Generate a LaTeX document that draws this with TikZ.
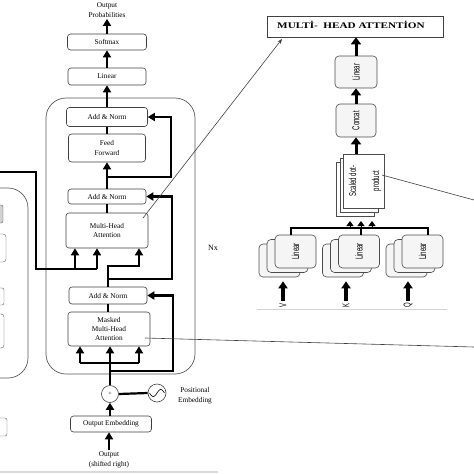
\documentclass[tikz,border=0pt]{standalone}
\usepackage{fontspec}
\setmainfont{Liberation Serif}
\setsansfont{Liberation Sans}
\usetikzlibrary{arrows.meta}
\begin{document}
\begin{tikzpicture}[x=1pt,y=-1pt,
  box/.style={draw=black!75, line width=0.6pt, rounded corners=3pt, align=center, inner sep=1pt, font=\fontsize{7.3}{9.3}\selectfont, fill=white},
  lbl/.style={align=center, inner sep=1pt, font=\fontsize{7.3}{10.5}\selectfont},
  thk/.style={line width=2.2pt},
  arr/.style={line width=2.2pt, -{Triangle[length=7pt,width=8pt]}},
  arrb/.style={line width=3pt, -{Triangle[length=7pt,width=10pt]}},
  bigarr/.style={line width=3.5pt, -{Triangle[length=7pt,width=9pt]}},
  sarr/.style={line width=1pt, -{Triangle[length=5pt,width=7pt]}},
  thinl/.style={draw=black!75, line width=0.6pt},
  frame/.style={draw=black!65, line width=0.7pt, rounded corners=20pt},
  sheet/.style={draw=black!70, line width=0.6pt, rounded corners=4pt, fill=gray!8, minimum width=41pt, minimum height=33pt, inner sep=0pt},
  psheet/.style={draw=black!70, line width=0.6pt, fill=white, minimum width=38pt, minimum height=54pt, inner sep=0pt},
  rbox/.style={draw=black!70, line width=0.6pt, rounded corners=4pt, fill=gray!8, inner sep=0pt},
  circ/.style={circle, draw=black!75, line width=0.6pt, inner sep=0pt, fill=white}
]
\useasboundingbox (0,0) rectangle (474,474);

% ---------- encoder (cut off at the left) ----------
\begin{scope}
\clip (0,0) rectangle (474,474);
\draw[frame] (-60,188) rectangle (28,378);
\draw[draw=black!65, fill=gray!35, rounded corners=2pt] (-40,205) rectangle (3,223);
\draw[draw=black!65, rounded corners=3pt] (-40,234) rectangle (6,262);
\draw[draw=black!65, rounded corners=2pt] (-40,288) rectangle (4,305);
\draw[draw=black!65, rounded corners=3pt] (-40,314) rectangle (4,348);
\draw[draw=black!65, rounded corners=2pt] (-40,418) rectangle (7,436);
\end{scope}

% ---------- decoder ----------
\draw[frame] (46,98) rectangle (195,374);
\node[lbl, font=\fontsize{8}{10}\selectfont] (nx) at (213,248) {Nx};

\node[lbl] (op) at (107,10) {Output\\Probabilities};
\node[box, minimum width=79pt, minimum height=16pt] (sm) at (107,42) {Softmax};
\node[box, minimum width=78pt, minimum height=17pt] (lin) at (107,76.5) {Linear};
\node[box, minimum width=81pt, minimum height=19pt] (an1) at (107,117) {Add \& Norm};
\node[box, minimum width=77pt, minimum height=28pt] (ff) at (107,148) {Feed\\Forward};
\node[box, minimum width=78pt, minimum height=15pt] (an2) at (107,196.5) {Add \& Norm};
\node[box, minimum width=82pt, minimum height=35pt] (mha) at (107,230.5) {Multi-Head\\Attention};
\node[box, minimum width=78pt, minimum height=17pt] (an3) at (108,295.5) {Add \& Norm};
\node[box, minimum width=82pt, minimum height=34pt] (mmha) at (109,329) {Masked\\Multi-Head\\Attention};
\node[circ, minimum size=17pt, font=\fontsize{6}{6}\selectfont] (pl) at (110,394) {+};
\node[circ, minimum size=18pt] (pe) at (157,393) {};
\draw[line width=0.6pt] plot[domain=0:1, samples=30, smooth] ({149.5+15*\x},{393+3.5*sin(360*\x)});
\node[lbl] (pet) at (195,396) {Positional\\Embedding};
\node[box, minimum width=81pt, minimum height=16pt] (oe) at (111,424) {Output Embedding};
\node[lbl] (osr) at (109,460) {Output\\(shifted right)};

% main stack connectors
\draw[arr] (sm.north) -- (op.south);
\draw[arr] (lin.north) -- (sm.south);
\draw[arr] (an1.north) -- (lin.south);
\draw[thk] (an1.south) -- (ff.north);
\draw[arr] (an2.north) -- (ff.south);
\draw[thk] (an2.south) -- (mha.north);

% residual around feed forward
\coordinate (j1) at (107,177);
\coordinate (r1) at (171,177);
\draw[arr] (j1) -- (r1) |- (an1.east);

% second sub-layer
\coordinate (k2) at (108,266);
\coordinate (k3) at (139,266);
\coordinate (j2) at (108,279);
\coordinate (r2) at (172,279);
\draw[arr] (an3.north) -- (k2) -- (k3) -- (k3 |- mha.south);
\draw[arr] (j2) -- (r2) |- (an2.east);

% encoder output into multi-head attention
\coordinate (e0) at (0,172);
\coordinate (e1) at (36,172);
\coordinate (e2) at (36,269);
\coordinate (e3) at (97,269);
\coordinate (ea) at (75,269);
\draw[thk] (e0) -- (e1) -- (e2) -- (e3);
\draw[arr] (ea) -- (ea |- mha.south);
\draw[arr] (e3) -- (e3 |- mha.south);

% masked multi-head attention
\draw[thk] (an3.south) -- (an3.south |- mmha.north);
\coordinate (m0) at (110,363);
\coordinate (m1) at (80,363);
\coordinate (m3) at (139,363);
\coordinate (j3) at (110,371);
\coordinate (r3) at (173,371);
\draw[thk] (pl.north) -- (m0);
\draw[thk] (m1) -- (m3);
\draw[arr] (m1) -- (m1 |- mmha.south);
\draw[arr] (m0) -- (m0 |- mmha.south);
\draw[arr] (m3) -- (m3 |- mmha.south);
\draw[arr] (j3) -- (r3) |- (an3.east);

\draw[thk] (pl.east) -- (pe.west);
\draw[arr] (oe.north -| pl.south) -- (pl.south);
\draw[arr] (osr.north) -- (osr.north |- oe.south);

% bottom grey rule
\draw[draw=gray!30, line width=2pt] (0,472) -- (218,472);

% ---------- multi-head attention detail ----------
\node[draw=black!75, line width=0.7pt, minimum width=176pt, minimum height=21pt, inner sep=0pt] (tb) at (355,26.5) {};
\node[inner sep=0pt, font=\bfseries\fontsize{8.6}{9}\selectfont] (tt) at (351,25) {\scalebox{1.3}[1]{MULTİ-\ \ HEAD ATTENTİON}};

\node[rbox, minimum width=42pt, minimum height=32pt] (rlin) at (356,72) {\rotatebox{90}{\scalebox{0.6}[1]{\sffamily\fontsize{10}{11}\selectfont Linear}}};
\node[rbox, minimum width=40pt, minimum height=33pt] (cc) at (356,120.5) {\rotatebox{90}{\scalebox{0.6}[1]{\sffamily\fontsize{10}{11}\selectfont Concat}}};

\node[psheet] (sd2) at (355,189) {};
\node[psheet] (sd1) at (359.5,185) {};
\node[psheet] (sdp) at (364,181) {\rotatebox{90}{\scalebox{0.6}[1]{\sffamily\fontsize{10}{18}\selectfont\begin{tabular}{@{}c@{}}Scaled dot-\\[5pt]product\end{tabular}}}};

\draw[arrb] (rlin.north) -- (rlin.north |- tb.south);
\draw[arrb] (cc.north) -- (rlin.south);
\draw[arrb] (sdp.north -| cc.south) -- (cc.south);

% linear stacks
\foreach \n/\cx in {l/295.5, m/359, r/422.5}{
  \node[sheet] (\n b2) at (\cx-16,260.5) {};
  \node[sheet] (\n b1) at (\cx-8,256) {};
  \node[sheet] (\n f) at (\cx,251.5) {\rotatebox{90}{\scalebox{0.6}[1]{\sffamily\fontsize{10}{11}\selectfont Linear}}};
}

\coordinate (h1) at (291,228);
\coordinate (h2) at (361,228);
\coordinate (h3) at (428,228);
\draw[line width=2pt] (h1 |- lf.north) -- (h1) -- (h3) -- (h3 |- rf.north);
\draw[line width=2pt] (h2 |- mf.north) -- (h2);
\coordinate (s1) at (350,229);
\coordinate (s2) at (361,229);
\coordinate (s3) at (372,229);
\draw[sarr] (s1) -- (350,221);
\draw[sarr] (s2) -- (361,221);
\draw[sarr] (s3) -- (372,221);

\node[inner sep=0.5pt] (lv) at (283,305) {\rotatebox{90}{\scalebox{0.6}[1]{\sffamily\fontsize{10}{11}\selectfont V}}};
\node[inner sep=0.5pt] (lk) at (346,305) {\rotatebox{90}{\scalebox{0.6}[1]{\sffamily\fontsize{10}{11}\selectfont K}}};
\node[inner sep=0.5pt] (lq) at (408,305) {\rotatebox{90}{\scalebox{0.6}[1]{\sffamily\fontsize{10}{11}\selectfont Q}}};
\draw[bigarr, shorten <=1pt, shorten >=4pt] (lv.north) -- (lv.north |- lb2.south);
\draw[bigarr, shorten <=1pt, shorten >=4pt] (lk.north) -- (lk.north |- mb2.south);
\draw[bigarr, shorten <=1pt, shorten >=4pt] (lq.north) -- (lq.north |- rb2.south);
\draw[draw=gray!35, line width=0.8pt] (257,309) -- (447,309);

% thin pointer lines
\coordinate (t1) at (143,218);
\coordinate (t2) at (282,39);
\draw[thinl, -{Stealth[length=5pt,width=4pt]}] (t1) -- (t2);
\coordinate (t3) at (382,175);
\coordinate (t4) at (474,200);
\draw[thinl] (t3) -- (t4);
\coordinate (t5) at (145,338);
\coordinate (t6) at (474,347);
\draw[thinl] (t5) -- (t6);
\end{tikzpicture}
\end{document}
